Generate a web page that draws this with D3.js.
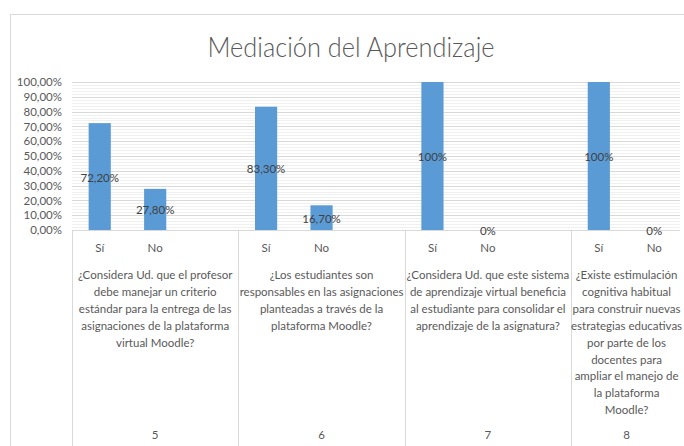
<!DOCTYPE html>
<html>
<head>
<meta charset="utf-8">
<script src="https://cdn.jsdelivr.net/npm/d3@7"></script>
<style>
  body { margin: 0; background: #fff; }
  svg { display: block; font-family: Lato, "Open Sans", sans-serif; }
</style>
</head>
<body>
<svg width="684" height="446"></svg>
<script>
// datos de la gráfica
const questions = ["5", "6", "7", "8"];
const answers = ["Sí", "No"];
const siValues = [72.2, 83.3, 100, 100];
const noValues = [27.8, 16.7, 0, 0];
const siLabels = ["72,20%", "83,30%", "100%", "100%"];
const noLabels = ["27,80%", "16,70%", "0%", "0%"];
const yTicks = [0, 10, 20, 30, 40, 50, 60, 70, 80, 90, 100];
const questionLines = [
  ["¿Considera Ud. que el profesor", "debe manejar un criterio", "estándar para la entrega de las", "asignaciones de la plataforma", "virtual Moodle?"],
  ["¿Los estudiantes son", "responsables en las asignaciones", "planteadas a través de la", "plataforma Moodle?"],
  ["¿Considera Ud. que este sistema", "de aprendizaje virtual beneficia", "al estudiante para consolidar el", "aprendizaje de la asignatura?"],
  ["¿Existe estimulación", "cognitiva habitual", "para construir nuevas", "estrategias educativas", "por parte de los", "docentes para", "ampliar el manejo de", "la plataforma", "Moodle?"]
];

const svg = d3.select("svg");
const plotLeft = 72, plotRight = 682, plotTop = 82, plotBottom = 230;

// 3 columnas por pregunta (Sí, No, hueco), la última sin hueco
const slots = [];
questions.forEach((q, g) => {
  answers.forEach((a, i) => {
    slots.push({ g: g, a: a, value: i === 0 ? siValues[g] : noValues[g], label: i === 0 ? siLabels[g] : noLabels[g], idx: g * 3 + i });
  });
});

const x = d3.scaleBand().domain(d3.range(11)).range([plotLeft, plotRight]);
const y = d3.scaleLinear().domain([0, 100]).range([plotBottom, plotTop]);

// borde del gráfico
svg.append("line").attr("x1", 10).attr("x2", 684).attr("y1", 14.5).attr("y2", 14.5).attr("stroke", "#D9D9D9");
svg.append("line").attr("x1", 10.5).attr("x2", 10.5).attr("y1", 14).attr("y2", 446).attr("stroke", "#D9D9D9");

// título
svg.append("text")
  .attr("x", 351).attr("y", 57)
  .attr("text-anchor", "middle")
  .attr("font-size", 27).attr("font-weight", 300)
  .attr("fill", "#595959")
  .attr("textLength", 287).attr("lengthAdjust", "spacingAndGlyphs")
  .text("Mediación del Aprendizaje");

// líneas de división secundarias (cada 2%)
svg.append("g").selectAll("line")
  .data(d3.range(0, 100, 2).filter(v => v % 10 !== 0))
  .enter().append("line")
  .attr("x1", plotLeft).attr("x2", plotRight - 2)
  .attr("y1", d => Math.round(y(d)) + 0.5).attr("y2", d => Math.round(y(d)) + 0.5)
  .attr("stroke", "#F0F0F0");

// líneas principales
svg.append("g").selectAll("line")
  .data(yTicks)
  .enter().append("line")
  .attr("x1", plotLeft).attr("x2", plotRight - 2)
  .attr("y1", d => Math.round(y(d)) + 0.5).attr("y2", d => Math.round(y(d)) + 0.5)
  .attr("stroke", "#D9D9D9");

// eje Y
const pct = d3.formatLocale({ decimal: ",", thousands: ".", grouping: [3], currency: ["", "€"] }).format(".2f");
const yAxis = svg.append("g")
  .attr("transform", "translate(" + plotLeft + ",0)")
  .call(d3.axisLeft(y).tickValues(yTicks).tickSize(0).tickPadding(10).tickFormat(d => pct(d) + "%"));
yAxis.select(".domain").remove();
yAxis.selectAll("text").attr("font-size", 11.5).attr("fill", "#595959").attr("font-family", "Lato, sans-serif");

// barras
svg.selectAll(".bar")
  .data(slots)
  .enter().append("rect")
  .attr("class", "bar")
  .attr("x", d => x(d.idx) + x.bandwidth() * 0.3)
  .attr("width", x.bandwidth() * 0.4)
  .attr("y", d => y(d.value))
  .attr("height", d => y(0) - y(d.value))
  .attr("fill", "#5B9BD5");

// eje X
svg.append("line").attr("x1", plotLeft).attr("x2", plotRight - 2).attr("y1", plotBottom + 0.5).attr("y2", plotBottom + 0.5).attr("stroke", "#D9D9D9");
const seps = questions.map((q, g) => x(g * 3));
svg.append("g").selectAll("line")
  .data(seps)
  .enter().append("line")
  .attr("x1", d => Math.round(d) + 0.5).attr("x2", d => Math.round(d) + 0.5)
  .attr("y1", plotBottom).attr("y2", 446)
  .attr("stroke", "#D9D9D9");

// etiquetas de datos
svg.selectAll(".lbl")
  .data(slots)
  .enter().append("text")
  .attr("class", "lbl")
  .attr("x", d => x(d.idx) + x.bandwidth() / 2)
  .attr("y", d => (y(d.value) + y(0)) / 2 + 1)
  .attr("dy", "0.35em")
  .attr("text-anchor", "middle")
  .attr("font-size", 11.5)
  .attr("fill", "#404040")
  .text(d => d.label);

// Sí / No
svg.selectAll(".ans")
  .data(slots)
  .enter().append("text")
  .attr("class", "ans")
  .attr("x", d => x(d.idx) + x.bandwidth() / 2)
  .attr("y", 252)
  .attr("text-anchor", "middle")
  .attr("font-size", 11.5)
  .attr("fill", "#595959")
  .text(d => d.a);

// textos de las preguntas
const groupCenter = g => (x(g * 3) + (g === 3 ? plotRight : x(g * 3 + 3))) / 2;
questionLines.forEach((lines, g) => {
  svg.append("text")
    .attr("x", groupCenter(g))
    .attr("y", 279)
    .attr("text-anchor", "middle")
    .attr("font-size", 11.5)
    .attr("fill", "#595959")
    .selectAll("tspan")
    .data(lines)
    .enter().append("tspan")
    .attr("x", groupCenter(g))
    .attr("dy", (d, i) => i === 0 ? 0 : 16.9)
    .text(d => d);
});

// número de pregunta
svg.selectAll(".qnum")
  .data(questions)
  .enter().append("text")
  .attr("class", "qnum")
  .attr("x", (d, g) => groupCenter(g))
  .attr("y", 439)
  .attr("text-anchor", "middle")
  .attr("font-size", 11.5)
  .attr("fill", "#595959")
  .text(d => d);
</script>
</body>
</html>
